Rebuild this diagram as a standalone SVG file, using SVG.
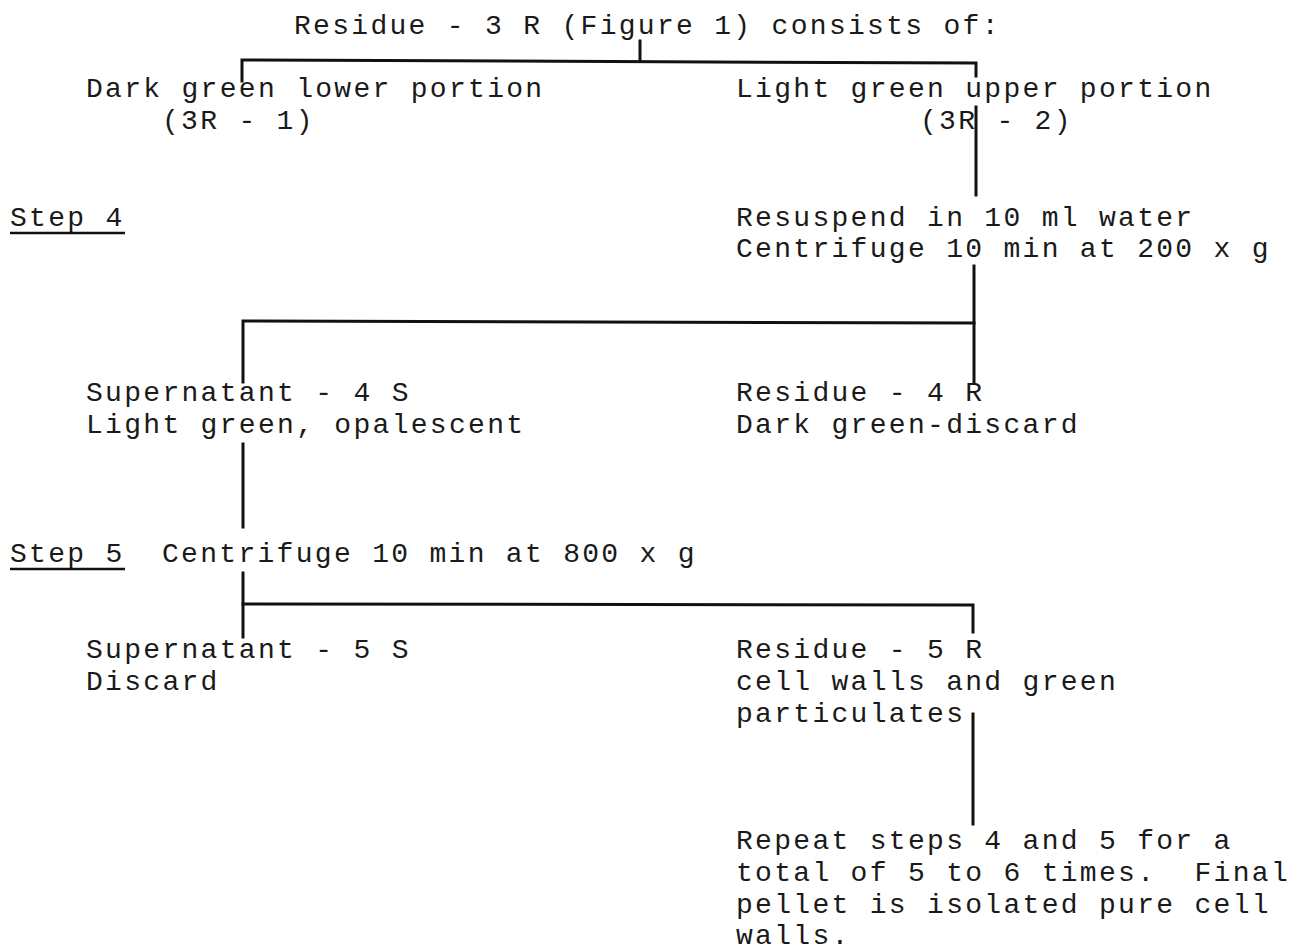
<svg xmlns="http://www.w3.org/2000/svg" width="1294" height="952" viewBox="0 0 1294 952">
<style>
text{font-family:"Liberation Mono","Courier New",monospace;font-size:28px;letter-spacing:2.3px;fill:#1a1a1a;white-space:pre}
.ln{stroke:#111;stroke-width:3;fill:none;stroke-linecap:square}
.ul{stroke:#111;stroke-width:2.5}
</style>
<rect width="1294" height="952" fill="#fff"/>
<g id="connectors">
<path class="ln" d="M640 41V61"/>
<path class="ln" d="M242 81V60L976 63V76"/>
<path class="ln" d="M976 107V195"/>
<path class="ln" d="M974 266V383"/>
<path class="ln" d="M243 382V321L974 323"/>
<path class="ln" d="M243 444V527"/>
<path class="ln" d="M243 573V637"/>
<path class="ln" d="M243 604L973 605V632"/>
<path class="ln" d="M973 714V824"/>
</g>
<g id="n_title"><text x="294" y="34">Residue - 3 R (Figure 1) consists of:</text></g>
<g id="n_3r1"><text x="86" y="97">Dark green lower portion</text><text x="162" y="129">(3R - 1)</text></g>
<g id="n_3r2"><text x="736" y="97">Light green upper portion</text><text x="920" y="129">(3R - 2)</text></g>
<g id="n_step4"><text x="10" y="226">Step 4</text><line class="ul" x1="10" y1="233" x2="125" y2="233"/></g>
<g id="n_resuspend"><text x="736" y="226">Resuspend in 10 ml water</text><text x="736" y="257">Centrifuge 10 min at 200 x g</text></g>
<g id="n_4s"><text x="86" y="401">Supernatant - 4 S</text><text x="86" y="433">Light green, opalescent</text></g>
<g id="n_4r"><text x="736" y="401">Residue - 4 R</text><text x="736" y="433">Dark green-discard</text></g>
<g id="n_step5"><text x="10" y="562">Step 5</text><line class="ul" x1="10" y1="569" x2="125" y2="569"/><text x="162" y="562">Centrifuge 10 min at 800 x g</text></g>
<g id="n_5s"><text x="86" y="658">Supernatant - 5 S</text><text x="86" y="690">Discard</text></g>
<g id="n_5r"><text x="736" y="658">Residue - 5 R</text><text x="736" y="690">cell walls and green</text><text x="736" y="722">particulates</text></g>
<g id="n_repeat"><text x="736" y="849">Repeat steps 4 and 5 for a</text><text x="736" y="881">total of 5 to 6 times.  Final</text><text x="736" y="913">pellet is isolated pure cell</text><text x="736" y="944">walls.</text></g>
</svg>
